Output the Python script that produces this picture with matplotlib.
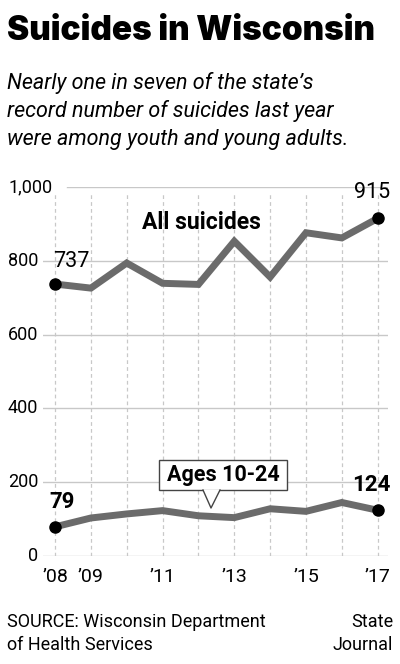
import matplotlib
matplotlib.use("Agg")
import matplotlib.pyplot as plt
from matplotlib.patches import Rectangle, Polygon
from matplotlib.lines import Line2D

# data
years = [2008, 2009, 2010, 2011, 2012, 2013, 2014, 2015, 2016, 2017]
all_suicides = [737, 726, 794, 739, 736, 853, 756, 876, 862, 915]
ages_10_24 = [79, 103, 114, 123, 109, 104, 128, 121, 145, 124]
yticks = [0, 200, 400, 600, 800, 1000]
ytick_labels = ["0", "200", "400", "600", "800", "1,000"]
xtick_years = [2008, 2009, 2011, 2013, 2015, 2017]
xtick_labels = ["\u201908", "\u201909", "\u201911", "\u201913", "\u201915", "\u201917"]

W, H = 400, 664
body = ["Roboto", "DejaVu Sans"]
line_col = "#6b6b6b"
grid_col = "#c8c8c8"


def fx(x):
    return x / W


def fy(y):
    return 1 - y / H


fig = plt.figure(figsize=(4, 6.64), dpi=100)
fig.patch.set_facecolor("white")

# header
fig.text(fx(7), fy(31), "Suicides in Wisconsin", fontsize=24, fontweight="black",
         family=["Inter", "Liberation Sans"], va="center", ha="left")
sub = ["Nearly one in seven of the state\u2019s",
       "record number of suicides last year",
       "were among youth and young adults."]
for i, s in enumerate(sub):
    fig.text(fx(7), fy(83 + i * 28.5), s, fontsize=15.5, style="italic",
             family=body, va="center", ha="left")

# plot area
ax = fig.add_axes([fx(43), fy(556), fx(388) - fx(43), fy(187) - fy(556)])
ax.set_xlim(2007.665, 2017.287)
ax.set_ylim(0, 1000)
ax.axis("off")

for yr in years:
    ax.plot([yr, yr], [0, 985], color=grid_col, lw=0.9, ls=(0, (3, 2.5)), zorder=1)
for v in yticks:
    start = 0.07 if v == 1000 else 0.0
    ax.axhline(v, xmin=start, xmax=1, color=grid_col, lw=1.0, zorder=1)

for v, lab in zip(yticks, ytick_labels):
    if v == 1000:
        ax.text(2007.665 - 35 / 35.86, v, lab, fontsize=13, family=body,
                ha="left", va="center", clip_on=False)
    else:
        ax.text(2007.665 - 5 / 35.86, v, lab, fontsize=13, family=body,
                ha="right", va="center", clip_on=False)

for yr, lab in zip(xtick_years, xtick_labels):
    ax.text(yr, -57, lab, fontsize=14, family=body, ha="center", va="center",
            clip_on=False)

ax.plot(years, all_suicides, color=line_col, lw=5, solid_joinstyle="miter",
        solid_capstyle="butt", zorder=3)
ax.plot(years, ages_10_24, color=line_col, lw=5, solid_joinstyle="miter",
        solid_capstyle="butt", zorder=3)
ends_x = [years[0], years[-1]]
ax.plot(ends_x, [all_suicides[0], all_suicides[-1]], "o", color="black", ms=8, zorder=4,
        clip_on=False)
ax.plot(ends_x, [ages_10_24[0], ages_10_24[-1]], "o", color="black", ms=8, zorder=4,
        clip_on=False)

ax.text(years[0] - 0.05, 799, str(all_suicides[0]), fontsize=15.5, family=body,
        ha="left", va="center", clip_on=False)
ax.text(years[-1] + 0.35, 985, str(all_suicides[-1]), fontsize=15.5, family=body,
        ha="right", va="center", clip_on=False)
ax.text(2012.07, 905, "All suicides", fontsize=16.5, fontweight="bold", family=body,
        ha="center", va="center", clip_on=False)
ax.text(years[0] + 0.2, 146, str(ages_10_24[0]), fontsize=16, fontweight="bold",
        family=body, ha="center", va="center", clip_on=False)
ax.text(years[-1] + 0.35, 193, str(ages_10_24[-1]), fontsize=16, fontweight="bold",
        family=body, ha="right", va="center", clip_on=False)

# callout box for the youth line
fig.patches.append(Rectangle((fx(159), fy(490)), fx(287) - fx(159), fy(460) - fy(490),
                             transform=fig.transFigure, fc="white", ec="#444444",
                             lw=1.0, zorder=5))
fig.patches.append(Polygon([(fx(203), fy(489.5)), (fx(211), fy(508)), (fx(220), fy(489.5))],
                           closed=False, transform=fig.transFigure, fc="white",
                           ec="none", zorder=6))
fig.lines.append(Line2D([fx(203), fx(211), fx(220)], [fy(490), fy(508), fy(490)],
                        transform=fig.transFigure, color="#444444", lw=1.0, zorder=7))
fig.text(fx(223), fy(475), "Ages 10-24", fontsize=15.5, fontweight="bold", family=body,
         ha="center", va="center", zorder=8)

# footer
fig.text(fx(7), fy(622), "SOURCE: Wisconsin Department", fontsize=13, family=body,
         ha="left", va="center")
fig.text(fx(7), fy(645), "of Health Services", fontsize=13, family=body,
         ha="left", va="center")
fig.text(fx(393), fy(622), "State", fontsize=13, family=body, ha="right", va="center")
fig.text(fx(393), fy(645), "Journal", fontsize=13, family=body, ha="right", va="center")

fig.savefig("out.png", dpi=100)
